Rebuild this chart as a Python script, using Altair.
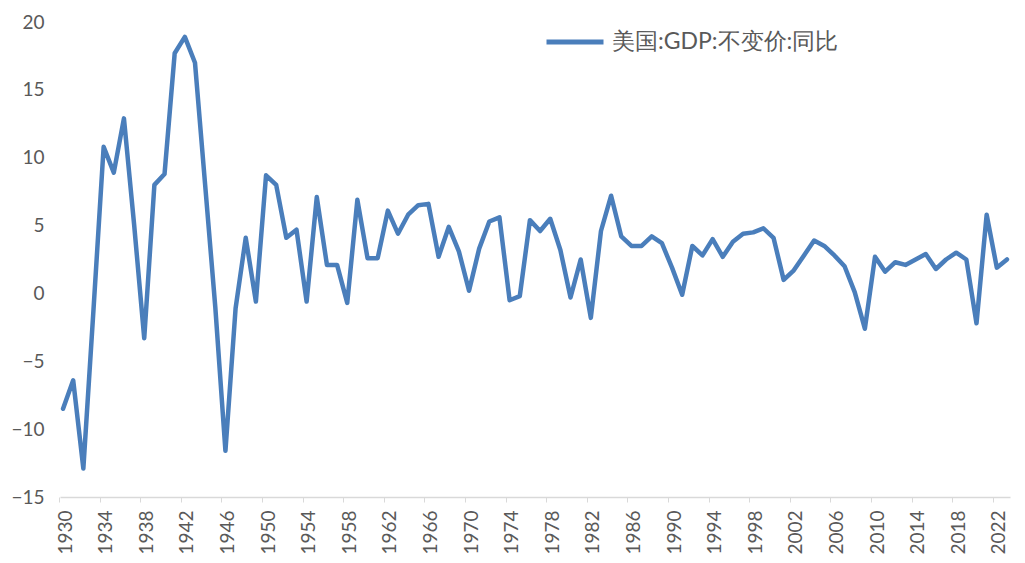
import altair as alt
import pandas as pd

years = list(range(1930, 2024))
growth = [
    -8.5, -6.4, -12.9, -1.2, 10.8, 8.9, 12.9, 5.1, -3.3, 8.0,
    8.8, 17.7, 18.9, 17.0, 8.0, -1.0, -11.6, -1.1, 4.1, -0.6,
    8.7, 8.0, 4.1, 4.7, -0.6, 7.1, 2.1, 2.1, -0.7, 6.9,
    2.6, 2.6, 6.1, 4.4, 5.8, 6.5, 6.6, 2.7, 4.9, 3.1,
    0.2, 3.3, 5.3, 5.6, -0.5, -0.2, 5.4, 4.6, 5.5, 3.2,
    -0.3, 2.5, -1.8, 4.6, 7.2, 4.2, 3.5, 3.5, 4.2, 3.7,
    1.9, -0.1, 3.5, 2.8, 4.0, 2.7, 3.8, 4.4, 4.5, 4.8,
    4.1, 1.0, 1.7, 2.8, 3.9, 3.5, 2.8, 2.0, 0.1, -2.6,
    2.7, 1.6, 2.3, 2.1, 2.5, 2.9, 1.8, 2.5, 3.0, 2.5,
    -2.2, 5.8, 1.9, 2.5,
]
series_name = "美国:GDP:不变价:同比"
x_ticks = list(range(1930, 2024, 4))
y_ticks = [-15, -10, -5, 0, 5, 10, 15, 20]

df = pd.DataFrame({"year": years, "value": growth, "series": series_name})

font = "Lato"
grey = "#595959"

chart = (
    alt.Chart(df)
    .mark_line(strokeWidth=4.5, strokeJoin="round", strokeCap="round")
    .encode(
        x=alt.X(
            "year:Q",
            scale=alt.Scale(domain=[1929.7, 2023.3], nice=False, zero=False),
            axis=alt.Axis(
                values=x_ticks,
                format="d",
                title=None,
                labelAngle=-90,
                labelFontSize=19,
                labelColor=grey,
                labelFont=font,
                labelPadding=8,
                tickOffset=-4,
                labelOffset=6,
                tickColor="#d9d9d9",
                tickSize=5,
                domainColor="#d9d9d9",
                domainWidth=1.5,
                grid=False,
            ),
        ),
        y=alt.Y(
            "value:Q",
            scale=alt.Scale(domain=[-15, 20], nice=False),
            axis=alt.Axis(
                values=y_ticks,
                title=None,
                labelFontSize=19,
                labelColor=grey,
                labelFont=font,
                labelPadding=16,
                domain=False,
                ticks=False,
                grid=False,
            ),
        ),
        color=alt.Color(
            "series:N",
            scale=alt.Scale(range=["#4A7EBB"]),
            legend=alt.Legend(
                title=None,
                orient="none",
                legendX=484,
                legendY=-11,
                symbolType="stroke",
                symbolSize=3249,
                symbolStrokeWidth=5,
                labelFontSize=23,
                labelColor=grey,
                labelFont=font,
                labelLimit=400,
                labelOffset=6,
            ),
        ),
    )
    .properties(
        width=950,
        height=475,
        background="white",
        autosize=alt.AutoSizeParams(type="none"),
        padding={"left": 52, "top": 14, "right": 7, "bottom": 60},
    )
    .configure_view(strokeWidth=0, stroke="transparent")
)

chart.save("out.html", embed_options={"renderer": "svg", "actions": False})
